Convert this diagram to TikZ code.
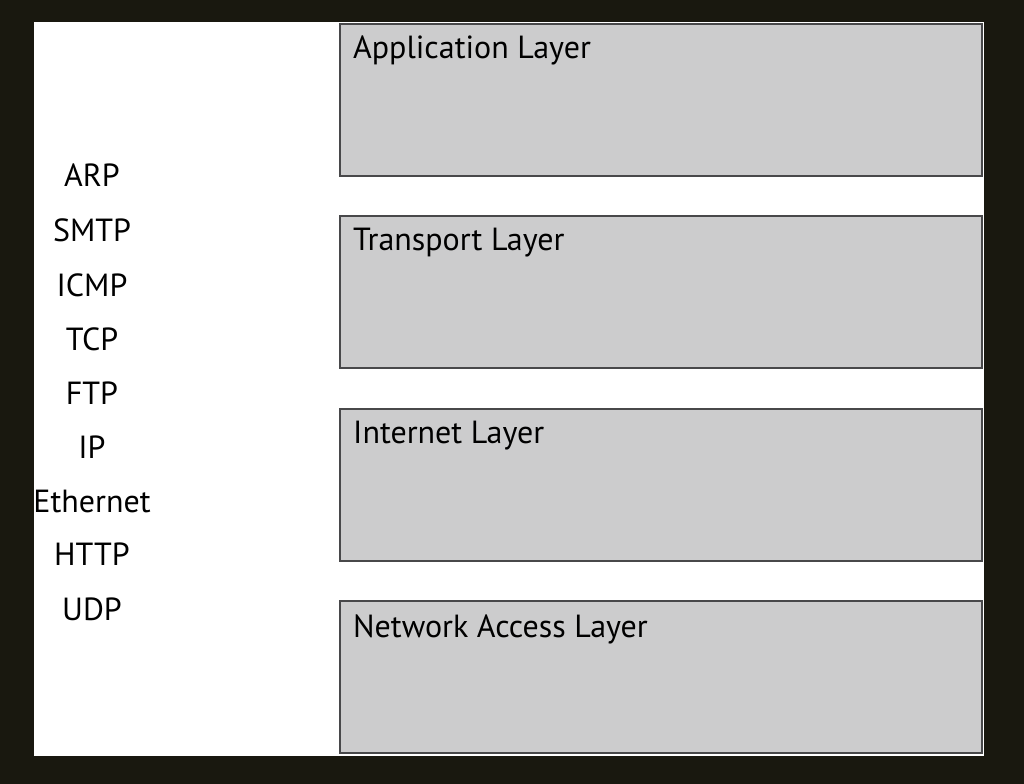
\documentclass[tikz,border=0pt]{standalone}
\usepackage{fontspec}
\setmainfont{PT Sans}
\definecolor{frame}{HTML}{19180F}
\definecolor{boxfill}{HTML}{CCCCCD}
\definecolor{boxline}{HTML}{48484A}
\begin{document}
\begin{tikzpicture}[x=1bp,y=-1bp,
  layerbox/.style={draw=boxline,line width=2bp,fill=boxfill},
  layertext/.style={anchor=west,font=\fontsize{32bp}{36bp}\selectfont,text=black,inner sep=0pt},
  proto/.style={font=\fontsize{32bp}{36bp}\selectfont,text=black,inner sep=0pt}]
\useasboundingbox (0,0) rectangle (1024,784);
\fill[frame] (0,0) rectangle (1024,784);
\fill[white] (34,22) rectangle (984,756);
\draw[layerbox] (340,24) rectangle (982,176);
\draw[layerbox] (340,216) rectangle (982,368);
\draw[layerbox] (340,409) rectangle (982,561);
\draw[layerbox] (340,601) rectangle (982,753);
\node[layertext] (app) at (353,50) {Application Layer};
\node[layertext] (trans) at (353,243) {Transport Layer};
\node[layertext] (inet) at (353,436) {Internet Layer};
\node[layertext] (net) at (353,629) {Network Access Layer};
\node[proto] (arp) at (92,175) {ARP};
\node[proto] (smtp) at (92,230) {SMTP};
\node[proto] (icmp) at (92,285) {ICMP};
\node[proto] (tcp) at (92,339) {TCP};
\node[proto] (ftp) at (92,393) {FTP};
\node[proto] (ip) at (92,447) {IP};
\node[proto] (eth) at (92,501) {Ethernet};
\node[proto] (http) at (92,554) {HTTP};
\node[proto] (udp) at (92,609) {UDP};
\end{tikzpicture}
\end{document}
